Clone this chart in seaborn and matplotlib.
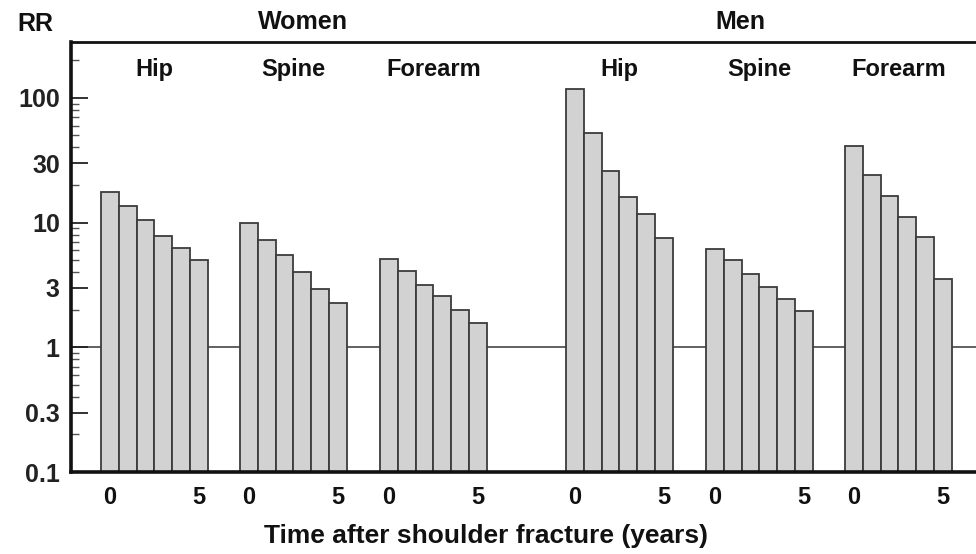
import numpy as np
import pandas as pd
import matplotlib
matplotlib.use('Agg')
import matplotlib.pyplot as plt
import seaborn as sns
from matplotlib.ticker import FixedLocator, NullFormatter

sns.set_style('ticks')
plt.rcParams['font.family'] = ['Liberation Sans', 'DejaVu Sans']

# relative risk by years after shoulder fracture (0..5)
years = [0, 1, 2, 3, 4, 5]
sexes = ['Women', 'Women', 'Women', 'Men', 'Men', 'Men']
sites = ['Hip', 'Spine', 'Forearm', 'Hip', 'Spine', 'Forearm']
women_hip = [17.6, 13.6, 10.5, 7.8, 6.25, 5.0]
women_spine = [9.9, 7.25, 5.5, 4.0, 2.94, 2.27]
women_forearm = [5.1, 4.1, 3.16, 2.58, 1.99, 1.57]
men_hip = [117, 52, 26, 16.1, 11.7, 7.5]
men_spine = [6.1, 5.0, 3.85, 3.03, 2.44, 1.94]
men_forearm = [41, 24.2, 16.3, 11.0, 7.7, 3.55]
rr_series = [women_hip, women_spine, women_forearm, men_hip, men_spine, men_forearm]

# layout: left edge of each group of bars, in bar widths
group_start = [0, 7.81, 15.67, 26.12, 33.99, 41.8]

rows = []
for g, vals in enumerate(rr_series):
    for yr, v in zip(years, vals):
        rows.append({'pos': group_start[g] + yr, 'rr': v, 'sex': sexes[g], 'site': sites[g]})
df = pd.DataFrame(rows)

fig = plt.figure(figsize=(9.76, 5.54), dpi=100)
ax = fig.add_axes([0.0727, 0.148, 0.9273, 0.776])

ax.axhline(1, color='#555555', lw=1.3, zorder=0)
sns.barplot(data=df, x='pos', y='rr', native_scale=True, log_scale=(False, True),
            width=1.0, color='#d2d2d2', saturation=1, edgecolor='#3c3c3c',
            linewidth=1.3, errorbar=None, ax=ax, zorder=2)

ax.set_yscale('log')
ax.set_ylim(0.1, 280)
ax.set_xlim(-2.19, 48.66)

# y ticks
major = [0.1, 0.3, 1, 3, 10, 30, 100]
ax.yaxis.set_major_locator(FixedLocator(major))
ax.set_yticklabels(['0.1', '0.3', '1', '3', '10', '30', '100'])
minor = [m * d for d in [0.1, 1, 10, 100] for m in [2, 4, 5, 6, 7, 8, 9]]
minor = [m for m in minor if m < 280]
ax.yaxis.set_minor_locator(FixedLocator(minor))
ax.yaxis.set_minor_formatter(NullFormatter())
ax.tick_params(axis='y', which='major', direction='in', length=12, width=1.3,
               labelsize=18, pad=8, colors='#222222')
ax.tick_params(axis='y', which='minor', direction='in', length=6, width=1.0, color='#555555')
for lbl in ax.get_yticklabels():
    lbl.set_fontweight('bold')

# x ticks: 0 and 5 under each group
xt, xl = [], []
for s in group_start:
    xt += [s + years[0], s + years[-1]]
    xl += ['0', '5']
ax.set_xticks(xt)
ax.set_xticklabels(xl)
ax.tick_params(axis='x', length=0, labelsize=17, pad=10, colors='#111111')
for lbl in ax.get_xticklabels():
    lbl.set_fontweight('bold')
ax.set_xlabel('Time after shoulder fracture (years)', fontsize=19, fontweight='bold',
              labelpad=8, color='#111111')
ax.xaxis.set_label_coords((486 - 71) / (976 - 71), -0.12)
ax.set_ylabel('')

for sp in ['left', 'bottom']:
    ax.spines[sp].set_linewidth(2.6)
    ax.spines[sp].set_color('#111111')
ax.spines['top'].set_linewidth(2.0)
ax.spines['top'].set_color('#111111')
ax.spines['right'].set_visible(False)

# group labels
for s, site in zip(group_start, sites):
    ax.text(s + 2.5, 170, site, ha='center', va='center', fontsize=17,
            fontweight='bold', color='#111111')

fig.text(35 / 976, 1 - 24 / 554, 'RR', ha='center', va='center', fontsize=18,
         fontweight='bold', color='#111111')
fig.text(303 / 976, 1 - 22 / 554, 'Women', ha='center', va='center', fontsize=18,
         fontweight='bold', color='#111111')
fig.text(740 / 976, 1 - 22 / 554, 'Men', ha='center', va='center', fontsize=18,
         fontweight='bold', color='#111111')

fig.savefig('out.png', dpi=100)
